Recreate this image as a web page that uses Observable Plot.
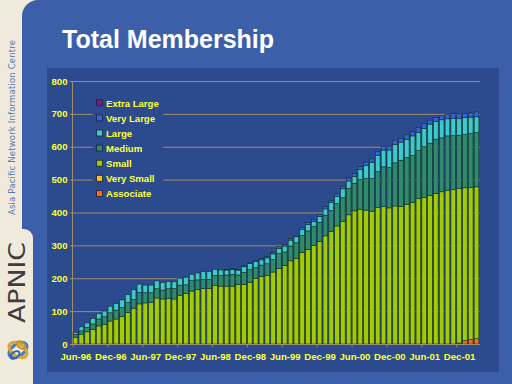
<!DOCTYPE html>
<html><head><meta charset="utf-8">
<script src="https://cdn.jsdelivr.net/npm/d3@7"></script>
<script src="https://cdn.jsdelivr.net/npm/@observablehq/plot@0.6"></script>
<style>
html,body{margin:0;padding:0;}
body{width:512px;height:384px;position:relative;overflow:hidden;background:#efeadb;font-family:"Liberation Sans",Arial,sans-serif;}
#slide{position:absolute;left:22px;top:0;width:490px;height:384px;background:#3c5fa9;border-top-left-radius:16px;}
#notch{position:absolute;left:22px;top:229px;width:11px;height:155px;background:#efeadb;border-top-right-radius:9px;}
#strip{position:absolute;left:0;top:0;}
#panel{position:absolute;left:47px;top:68px;width:452px;height:304px;background:#2c4b8e;}
#title{position:absolute;left:62px;top:27px;color:#fff;font:bold 25px/25px "Liberation Sans",Arial,sans-serif;white-space:nowrap;}
#chart{position:absolute;left:44px;top:70px;}
#legend{position:absolute;left:93px;top:96px;}
</style></head>
<body>
<div id="slide"></div>
<div id="notch"></div>
<svg id="strip" width="36" height="384">
  <text transform="translate(15,215) rotate(-90)" font-family="DejaVu Sans" font-size="8.5" fill="#4f7bb3" textLength="175" lengthAdjust="spacing">Asia Pacific Network Information Centre</text>
  <text transform="translate(25,323) rotate(-90)" font-family="DejaVu Sans" font-size="23" fill="#3d3d3d" textLength="81" lengthAdjust="spacingAndGlyphs">APNIC</text>
  <g transform="translate(18,350)" fill="none" stroke-width="3.2">
    <ellipse rx="10" ry="6" transform="rotate(-35)" stroke="#3f7fc4"/>
    <ellipse rx="10" ry="6" transform="rotate(35)" stroke="#d9a73a"/>
    <ellipse rx="5" ry="3" transform="translate(-3,5) rotate(-35)" stroke="#2f63a8" stroke-width="2"/>
    <ellipse rx="5" ry="3" transform="translate(3,-5) rotate(35)" stroke="#c8902a" stroke-width="2"/>
  </g>
</svg>
<div id="panel"></div>
<div id="title">Total Membership</div>
<div id="chart"></div>
<svg id="legend" width="70" height="106"></svg>
<script>
const seriesNames = ["Associate","Very Small","Small","Medium","Large","Very Large","Extra Large"];
const seriesColors = ["#ff6a1a","#ffc21a","#a3cc00","#2e8c6c","#3ccaca","#3362e6","#7d1a86"];
const yTicks = [0,100,200,300,400,500,600,700,800];
const xTickLabels = ["Jun-96","Dec-96","Jun-97","Dec-97","Jun-98","Dec-98","Jun-99","Dec-99","Jun-00","Dec-00","Jun-01","Dec-01"];
const months = d3.utcMonths(new Date(Date.UTC(1996,5,1)), new Date(Date.UTC(2002,3,1))).map(d3.utcFormat("%b-%y"));

const associate = [0,0,0,0,0,0,0,0,0,0, 0,0,0,0,0,0,0,0,0,0, 0,0,0,0,0,0,0,0,0,0, 0,0,0,0,0,0,0,0,0,0, 0,0,0,0,0,0,0,0,0,0, 0,0,0,0,0,0,0,0,0,0, 0,0,0,0,0,0,3,10,14,16];
const verySmall = [0,0,0,0,0,0,0,0,0,0, 0,0,0,0,0,0,0,0,0,0, 0,0,0,0,0,0,0,0,0,0, 0,0,0,0,0,0,0,0,0,0, 0,0,0,0,0,0,0,0,0,0, 0,0,0,0,0,0,0,0,0,0, 0,0,0,0,0,0,0,0,0,0];
const small = [21,30,37,45,55,59,70,76,83,96, 109,122,125,127,140,137,138,137,147,154, 161,166,169,169,178,176,176,176,181,181, 188,200,206,209,219,230,239,253,260,279, 288,300,312,329,343,359,373,393,405,410, 407,404,416,418,414,420,419,425,431,442, 446,451,458,463,468,470,470,465,462,462];
const medium = [8,10,14,16,21,24,25,27,28,30, 26,35,31,29,28,27,30,32,32,26, 32,29,27,28,30,32,34,36,29,37, 38,32,34,35,38,45,41,45,48,51, 56,57,58,63,63,68,72,80,84,90, 96,99,108,121,123,131,140,142,142,146, 154,160,165,164,165,164,162,162,164,165];
const large = [6,12,13,17,17,17,20,20,23,24, 30,25,23,23,24,23,22,20,21,23, 19,21,24,23,19,17,15,15,15,17, 19,19,16,18,17,16,18,18,18,18, 19,16,18,19,24,22,27,23,21,31, 40,50,49,51,53,56,55,56,60,55, 56,58,54,55,52,53,51,52,50,48];
const veryLarge = [0,0,0,0,0,0,0,0,0,0, 0,0,0,0,0,0,0,0,0,0, 0,0,0,0,0,0,2,3,2,3, 3,3,4,4,4,5,5,5,5,6, 6,6,6,7,7,8,8,9,9,9, 10,10,13,12,12,13,12,14,13,16, 15,12,12,12,14,14,14,12,13,15];
const extraLarge = [0,0,0,0,0,0,0,0,0,0, 0,0,0,0,0,0,0,0,0,0, 0,0,0,0,0,0,0,0,0,0, 0,0,0,0,0,0,0,0,0,0, 0,0,0,0,0,0,0,0,0,0, 0,0,0,0,0,0,0,0,0,0, 0,0,0,0,0,0,0,0,0,0];

const seriesValues = [associate, verySmall, small, medium, large, veryLarge, extraLarge];
const data = seriesNames.flatMap((s, k) => months.map((m, i) => ({month: m, series: s, value: seriesValues[k][i]}))).filter(d => d.value > 0);

const tan = "#a08d6c";
const chart = Plot.plot({
  width: 452, height: 300,
  marginLeft: 28, marginRight: 16, marginTop: 11, marginBottom: 26,
  style: {background: "transparent", fontFamily: "Liberation Sans, Arial, sans-serif", fontWeight: "bold", fontSize: "9.6px", color: "#ffff33", overflow: "visible"},
  x: {domain: months, padding: 0.2, axis: null},
  y: {domain: [0, 800], axis: null},
  color: {domain: seriesNames, range: seriesColors},
  marks: [
    Plot.gridY(yTicks.filter(d => d > 0), {stroke: tan, strokeOpacity: 1, strokeWidth: 1}),
    Plot.axisY({ticks: yTicks, tickSize: 2, tickPadding: 3, stroke: tan, fill: "#ffff33", label: null}),
    Plot.frame({anchor: "left", stroke: tan}),
    Plot.barY(data, {x: "month", y: "value", fill: "series", order: seriesNames, stroke: "#14302a", strokeWidth: 0.6}),
    Plot.ruleY([0], {stroke: tan}),
    Plot.axisX({ticks: xTickLabels, tickSize: 3, dx: -2.9, stroke: tan, tickFormat: () => "", label: null}),
    Plot.axisX({ticks: xTickLabels, tickSize: 0, tickPadding: 9, fill: "#ffff33", label: null})
  ]
});
document.getElementById("chart").appendChild(chart);

// legend (top of stack first)
const leg = d3.select("#legend");
leg.append("rect").attr("width", 70).attr("height", 106).attr("fill", "#2c4b8e");
const legendOrder = seriesNames.slice().reverse();
legendOrder.forEach((name, i) => {
  const cy = 7.3 + i * 15.1;
  leg.append("rect").attr("x", 3.5).attr("y", cy - 3.5).attr("width", 6).attr("height", 6)
    .attr("fill", seriesColors[seriesNames.indexOf(name)]).attr("stroke", "#1a2433").attr("stroke-width", 0.8);
  leg.append("text").attr("x", 13).attr("y", cy + 3.5).text(name)
    .attr("font-family", "Liberation Sans, Arial, sans-serif").attr("font-weight", "bold")
    .attr("font-size", 9.6).attr("fill", "#ffff33");
});
</script>
</body></html>
